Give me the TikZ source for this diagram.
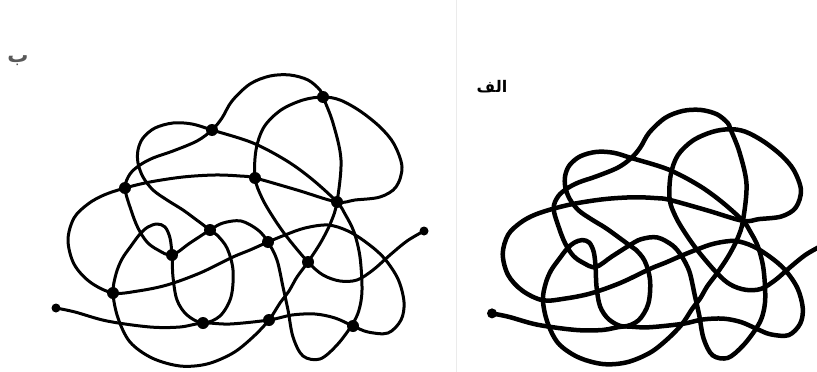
\documentclass[tikz,border=0pt]{standalone}
\usepackage{fontspec}
\TeXXeTstate=1
\newfontfamily\arabicfont[Script=Arabic]{DejaVu Sans}
\newcommand\tanglepaths[1]{%
  \draw[line width=#1, line cap=round, line join=round]
    plot[smooth, tension=0.55] coordinates {
      (56,308) (75,312) (107,321) (150,327) (180,327) (203,323) (230,324) (269,320)
      (292,315) (315,314) (335,318) (353,326) (368,332) (388,333) (401,320) (404,302)
      (398,279) (384,258) (367,243) (348,231) (328,225) (305,228) (285,235) (268,242)
      (250,250) (233,257) (200,273) (167,285) (138,291) (113,293) (90,282) (74,264)
      (68,240) (74,218) (88,204) (104,195) (125,188) (150,182) (183,177) (215,175)
      (240,176) (255,178) (297,190) (337,202) (355,200) (380,197) (396,187) (402,167)
      (394,144) (380,127) (360,111) (340,100) (323,97) (303,100) (281,110) (264,127)
      (256,150) (255,178) (262,198) (273,217) (287,237) (308,262) (323,275) (340,281)
      (357,280) (373,270) (390,255) (407,241) (424,231)};
  \draw[line width=#1, line cap=round, line join=round]
    plot[smooth cycle, tension=0.55] coordinates {
      (269,320) (253,337) (233,353) (207,364) (180,366) (152,358) (130,342) (118,318)
      (113,293) (116,274) (122,259) (131,246) (140,234) (148,227) (157,224) (165,227)
      (170,238) (172,255) (173,277) (177,300) (187,315) (203,323) (220,316) (231,297)
      (233,270) (227,248) (217,235) (210,230) (198,221) (183,210) (167,200) (153,190)
      (143,177) (138,163) (138,150) (143,138) (155,128) (173,123) (192,124) (212,130)
      (253,143) (287,161) (313,180) (337,202) (345,214) (354,232) (360,257) (362,290)
      (359,310) (352,325) (337,345) (320,359) (303,356) (293,337) (288,310) (283,287)
      (277,260) (268,242) (258,230) (241,221) (223,223) (210,230) (190,243) (172,255)
      (158,250) (147,242) (138,228) (131,210) (125,188) (130,174) (140,165) (153,158)
      (173,151) (197,141) (212,130) (222,118) (232,101) (250,84) (270,76) (290,75)
      (308,80) (320,90) (323,97) (333,123) (341,160) (337,202) (331,222) (321,242)
      (308,262) (297,277) (289,291) (280,303)};
}
\begin{document}
\begin{tikzpicture}[x=1pt, y=-1pt,
  dot/.style={circle, fill=black, inner sep=0pt, minimum size=12pt},
  enddot/.style={circle, fill=black, inner sep=0pt, minimum size=9pt},
  lbl/.style={inner sep=0pt}]
  \useasboundingbox (0,0) rectangle (817,372);
  \fill[white] (0,0) rectangle (817,372);
  \draw[black!8, line width=1pt] (456,0) -- (456,372);
  % left drawing (b)
  \tanglepaths{3pt}
  \node[enddot] (endl) at (56,308) {};
  \node[enddot] (endr) at (424,231) {};
  \node[dot] (d1) at (323,97) {};
  \node[dot] (d2) at (212,130) {};
  \node[dot] (d3) at (125,188) {};
  \node[dot] (d4) at (255,178) {};
  \node[dot] (d5) at (337,202) {};
  \node[dot] (d6) at (210,230) {};
  \node[dot] (d7) at (172,255) {};
  \node[dot] (d8) at (268,242) {};
  \node[dot] (d9) at (308,262) {};
  \node[dot] (d10) at (113,293) {};
  \node[dot] (d11) at (203,323) {};
  \node[dot] (d12) at (269,320) {};
  \node[dot] (d13) at (353,326) {};
  \node[lbl, text=black!65, font=\arabicfont\bfseries\fontsize{21}{24}\selectfont] (lb) at (18,61) {\beginR ب\endR};
  % right drawing (alef)
  \begin{scope}
    \clip (0,0) rectangle (817,372);
    \begin{scope}[shift={(442,44.5)}, xscale=0.893, yscale=0.873]
      \tanglepaths{4.5pt}
      \node[enddot, minimum size=10pt] (enda) at (56,308) {};
    \end{scope}
  \end{scope}
  \node[lbl, font=\arabicfont\bfseries\fontsize{16}{18}\selectfont] (la) at (492,87) {\beginR الف\endR};
\end{tikzpicture}
\end{document}
